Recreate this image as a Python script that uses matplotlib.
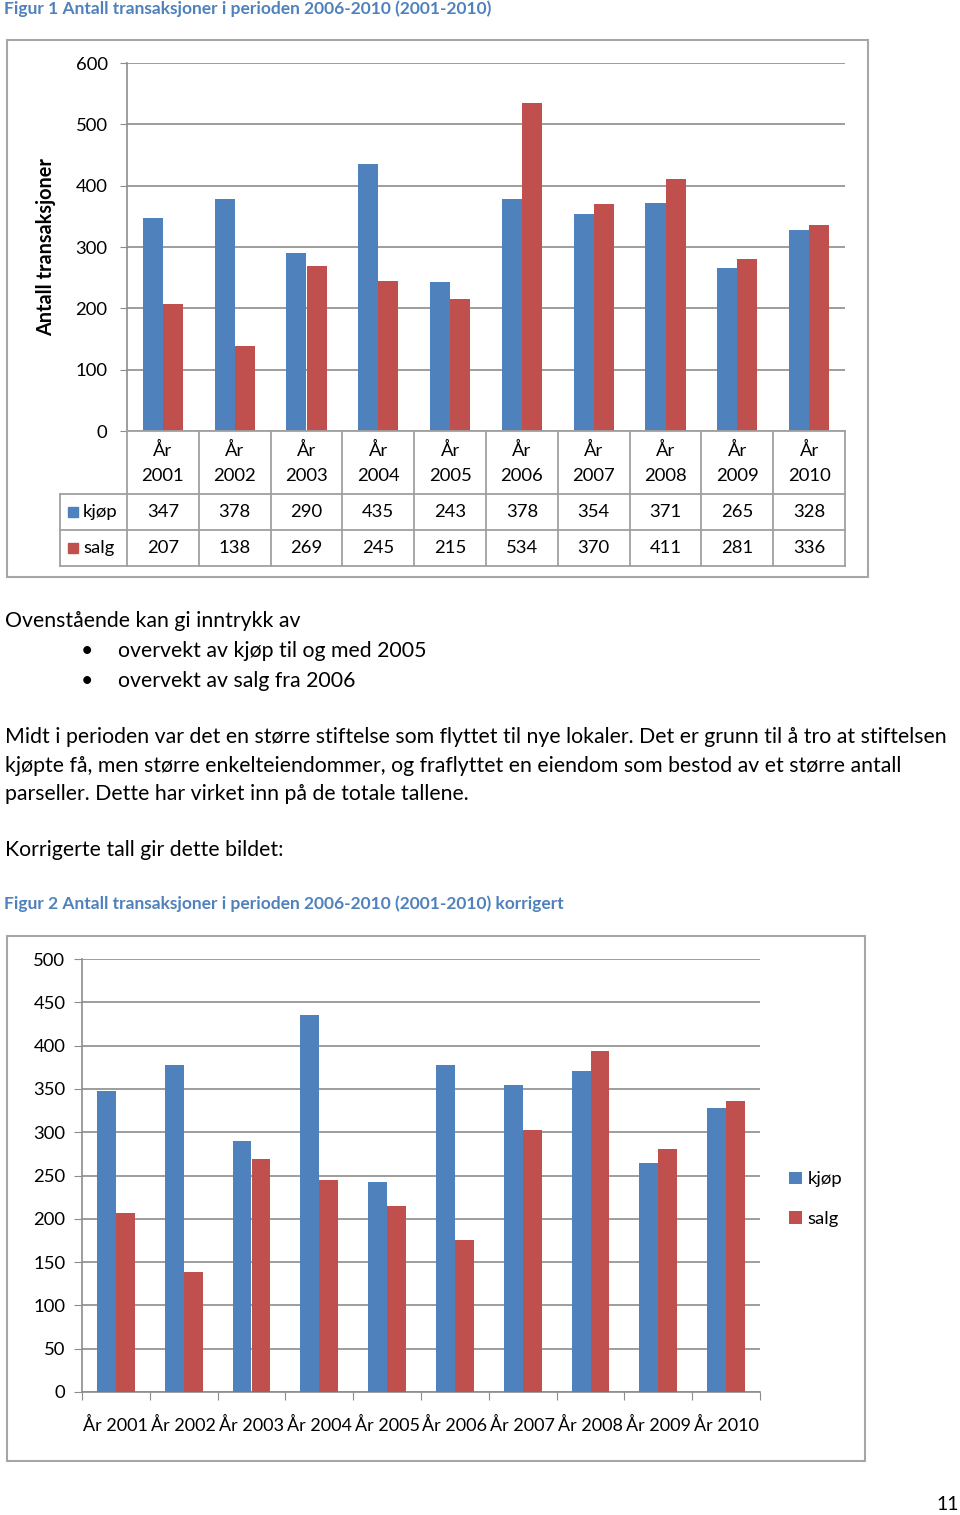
import matplotlib
matplotlib.use("Agg")
import matplotlib.pyplot as plt
import numpy as np
from matplotlib.patches import Rectangle

plt.rcParams['font.family'] = ['Lato', 'DejaVu Sans']

years = ["År 2001", "År 2002", "År 2003", "År 2004", "År 2005",
         "År 2006", "År 2007", "År 2008", "År 2009", "År 2010"]
kjop = [347, 378, 290, 435, 243, 378, 354, 371, 265, 328]
salg = [207, 138, 269, 245, 215, 534, 370, 411, 281, 336]
kjop_korr = [347, 378, 290, 435, 243, 378, 354, 371, 265, 328]
salg_korr = [207, 138, 269, 245, 215, 176, 303, 394, 281, 336]
series_names = ["kjøp", "salg"]
yticks1 = [0, 100, 200, 300, 400, 500, 600]
yticks2 = [0, 50, 100, 150, 200, 250, 300, 350, 400, 450, 500]

BLUE = "#4F81BD"
RED = "#C0504D"
GRID = "#8c8c8c"
BORDER = "#a6a6a6"
CAP = "#4F81BD"
BODY = 15.3

W, H = 960, 1515
fig = plt.figure(figsize=(W / 100, H / 100), dpi=100)

def fx(x):
    return x / W

def fy(y):
    return 1 - y / H

def box(x0, y0, x1, y1):
    return [fx(x0), fy(y1), fx(x1) - fx(x0), fy(y0) - fy(y1)]

def ftext(x, y, s, **kw):
    kw.setdefault("fontsize", BODY)
    kw.setdefault("va", "center")
    fig.text(fx(x), fy(y), s, **kw)

# ---------------- Figure 1 ----------------
ftext(4, 9, "Figur 1 Antall transaksjoner i perioden 2006-2010 (2001-2010)",
      color=CAP, fontweight="bold", fontsize=12.5)
fig.patches.append(Rectangle((fx(7), fy(577)), fx(868) - fx(7), fy(40) - fy(577),
                             transform=fig.transFigure, fill=False,
                             edgecolor=BORDER, lw=1.5))

L1, R1, T1, B1 = 127, 845, 63, 431
ax1 = fig.add_axes(box(L1, T1, R1, B1))
x = np.arange(len(years))
bw = 0.28
ax1.bar(x - bw / 2, kjop, bw, color=BLUE, zorder=3)
ax1.bar(x + bw / 2, salg, bw, color=RED, zorder=3)
ax1.set_xlim(-0.5, len(years) - 0.5)
ax1.set_ylim(0, 600)
ax1.set_yticks(yticks1)
ax1.yaxis.grid(True, color=GRID, lw=1.2)
ax1.set_axisbelow(True)
for s in ["top", "right", "bottom"]:
    ax1.spines[s].set_visible(False)
ax1.spines["left"].set_color(GRID)
ax1.spines["left"].set_linewidth(1.2)
ax1.set_xticks([])
ax1.tick_params(axis="y", length=5, color=GRID, labelsize=13.3, pad=9)
ax1.set_ylabel("Antall transaksjoner", fontsize=14.3, fontweight="bold", labelpad=14)

# data table
tab = fig.add_axes(box(60, B1, R1, 566))
tab.set_xlim(60, R1)
tab.set_ylim(566, B1)
tab.axis("off")
colw = (R1 - L1) / len(years)
lc = "#a0a0a0"
lw = 1.3
rows_y = [B1, 494, 530, 566]
tab.plot([L1, R1], [B1, B1], color=lc, lw=lw, clip_on=False)
for yy in rows_y[1:]:
    tab.plot([60, R1], [yy, yy], color=lc, lw=lw, clip_on=False)
tab.plot([60, 60], [494, 566], color=lc, lw=lw, clip_on=False)
for i in range(len(years) + 1):
    xx = L1 + i * colw
    tab.plot([xx, xx], [B1, 566], color=lc, lw=lw, clip_on=False)
for i, yr in enumerate(years):
    cx = L1 + (i + 0.5) * colw
    a, b = yr.split(" ")
    tab.text(cx, 450, a, ha="center", va="center", fontsize=13.3)
    tab.text(cx, 476, b, ha="center", va="center", fontsize=13.3)
    tab.text(cx, 512, str(kjop[i]), ha="center", va="center", fontsize=13.3)
    tab.text(cx, 548, str(salg[i]), ha="center", va="center", fontsize=13.3)
for yy, name, col in [(512, series_names[0], BLUE), (548, series_names[1], RED)]:
    tab.add_patch(Rectangle((68, yy - 5), 10, 10, color=col))
    tab.text(83, yy, name, ha="left", va="center", fontsize=13.3)

# ---------------- Text ----------------
ftext(5, 621, "Ovenstående kan gi inntrykk av")
ftext(87, 651, "•", ha="center")
ftext(118, 651, "overvekt av kjøp til og med 2005")
ftext(87, 681, "•", ha="center")
ftext(118, 681, "overvekt av salg fra 2006")
ftext(5, 737, "Midt i perioden var det en større stiftelse som flyttet til nye lokaler. Det er grunn til å tro at stiftelsen")
ftext(5, 766, "kjøpte få, men større enkelteiendommer, og fraflyttet en eiendom som bestod av et større antall")
ftext(5, 794, "parseller. Dette har virket inn på de totale tallene.")
ftext(5, 850, "Korrigerte tall gir dette bildet:")

# ---------------- Figure 2 ----------------
ftext(4, 904, "Figur 2 Antall transaksjoner i perioden 2006-2010 (2001-2010) korrigert",
      color=CAP, fontweight="bold", fontsize=12.5)
fig.patches.append(Rectangle((fx(7), fy(1461)), fx(865) - fx(7), fy(936) - fy(1461),
                             transform=fig.transFigure, fill=False,
                             edgecolor=BORDER, lw=1.5))

L2, R2, T2, B2 = 82, 760, 959, 1392
ax2 = fig.add_axes(box(L2, T2, R2, B2))
ax2.bar(x - bw / 2, kjop_korr, bw, color=BLUE, zorder=3, label=series_names[0])
ax2.bar(x + bw / 2, salg_korr, bw, color=RED, zorder=3, label=series_names[1])
ax2.set_xlim(-0.5, len(years) - 0.5)
ax2.set_ylim(0, 500)
ax2.set_yticks(yticks2)
ax2.yaxis.grid(True, color=GRID, lw=1.2)
ax2.set_axisbelow(True)
for s in ["top", "right"]:
    ax2.spines[s].set_visible(False)
for s in ["left", "bottom"]:
    ax2.spines[s].set_color(GRID)
    ax2.spines[s].set_linewidth(1.2)
ax2.set_xticks(np.arange(len(years) + 1) - 0.5, minor=False)
ax2.set_xticklabels([])
ax2.set_xticks(x, minor=True)
ax2.set_xticklabels(years, minor=True)
ax2.tick_params(axis="x", which="major", length=6, color=GRID)
ax2.tick_params(axis="x", which="minor", length=0, labelsize=13, pad=18)
ax2.tick_params(axis="y", length=6, color=GRID, labelsize=13.3, pad=6)
leg = ax2.legend(frameon=False, fontsize=13.3, handlelength=0.7, handleheight=0.7,
                 handletextpad=0.3, labelspacing=1.25, loc="center left",
                 borderaxespad=0, borderpad=0)
leg.set_bbox_to_anchor((fx(789), fy(1199)), transform=fig.transFigure)

ftext(948, 1505, "11", ha="center", fontsize=14)

fig.savefig("out.png", dpi=100)
